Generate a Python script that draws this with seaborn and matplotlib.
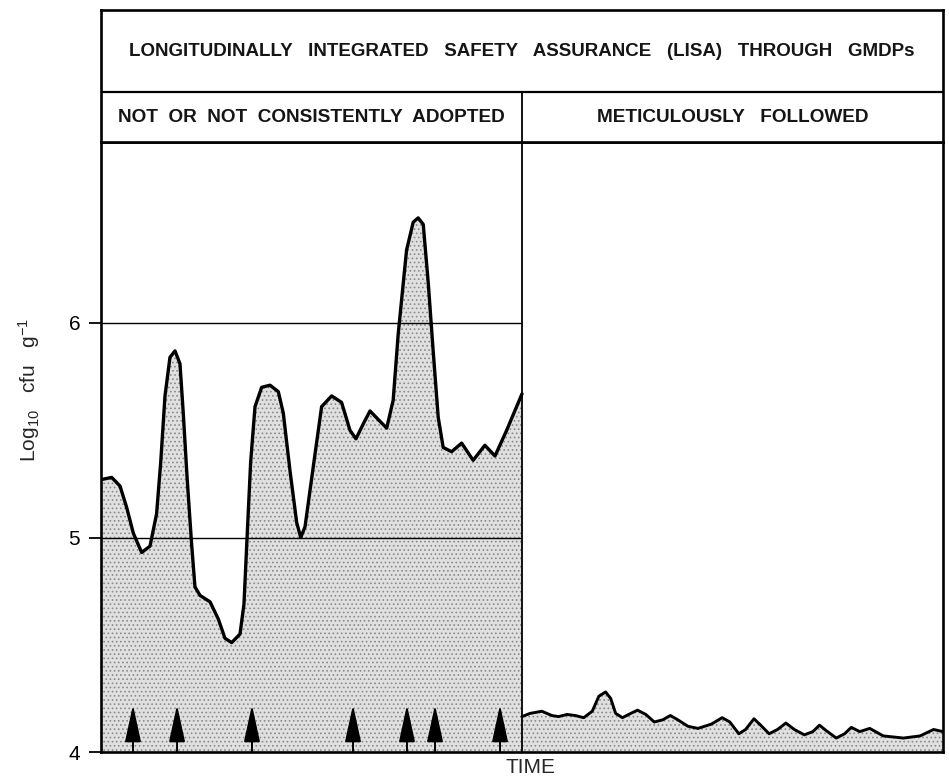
import numpy as np
import pandas as pd
import matplotlib
matplotlib.use("Agg")
import matplotlib.pyplot as plt
import seaborn as sns

# ---------------- data ----------------
left_time = [0.0, 1.27, 2.26, 3.05, 3.84, 4.83, 5.82, 6.60, 7.09, 7.60, 8.19, 8.79, 9.38,
             9.77, 10.24, 10.76, 11.16, 11.76, 12.95, 13.93, 14.73, 15.52, 16.51, 16.98,
             17.30, 17.77, 18.29, 19.08, 20.07, 21.06, 21.65, 22.45, 23.24, 23.72, 24.23,
             25.21, 26.20, 27.39, 28.57, 29.57, 30.28, 31.15, 31.95, 32.93, 33.93, 34.70,
             35.30, 36.29, 37.08, 37.67, 38.27, 38.86, 39.45, 40.05, 40.64, 41.64, 42.83,
             44.20, 45.59, 46.79, 48.18, 50.0]
left_log = [5.27, 5.28, 5.24, 5.14, 5.02, 4.93, 4.96, 5.11, 5.35, 5.66, 5.84, 5.87, 5.81,
            5.58, 5.27, 4.97, 4.77, 4.73, 4.70, 4.62, 4.53, 4.51, 4.55, 4.69,
            4.96, 5.35, 5.61, 5.70, 5.71, 5.68, 5.58, 5.31, 5.07, 5.00, 5.05,
            5.33, 5.61, 5.66, 5.63, 5.50, 5.46, 5.53, 5.59, 5.55, 5.51, 5.64,
            5.95, 6.34, 6.47, 6.49, 6.46, 6.19, 5.87, 5.56, 5.42, 5.40, 5.44,
            5.36, 5.43, 5.38, 5.50, 5.67]

right_time = [50.0, 50.96, 52.36, 53.55, 54.34, 55.35, 56.34, 57.33, 58.34, 59.13, 59.93,
              60.53, 61.12, 61.93, 62.92, 63.72, 64.71, 65.71, 66.71, 67.62, 68.51, 69.70,
              70.90, 72.49, 73.77, 74.68, 75.75, 76.56, 77.55, 78.35, 79.35, 80.35, 81.34,
              82.34, 83.53, 84.54, 85.33, 86.12, 87.32, 88.31, 89.11, 90.11, 91.30, 92.90,
              95.30, 97.28, 98.88, 100.0]
right_log = [4.165, 4.18, 4.19, 4.17, 4.165, 4.175, 4.17, 4.16, 4.19, 4.26, 4.28,
             4.25, 4.18, 4.16, 4.18, 4.195, 4.175, 4.14, 4.15, 4.17, 4.15, 4.12,
             4.11, 4.13, 4.16, 4.14, 4.085, 4.105, 4.155, 4.125, 4.085, 4.105, 4.135,
             4.105, 4.08, 4.095, 4.125, 4.10, 4.065, 4.085, 4.115, 4.095, 4.11, 4.075,
             4.065, 4.075, 4.105, 4.095]

arrow_times = [3.80, 9.03, 17.93, 29.93, 36.34, 39.67, 47.39]
y_ticks = [4, 5, 6]
ref_levels = [5, 6]
title_text = "LONGITUDINALLY   INTEGRATED   SAFETY   ASSURANCE   (LISA)   THROUGH   GMDPs"
left_header = "NOT  OR  NOT  CONSISTENTLY  ADOPTED"
right_header = "METICULOUSLY   FOLLOWED"
x_label = "TIME"
y_label = r"Log$_{10}$   cfu   g$^{-1}$"

# ---------------- style ----------------
sns.set_theme(style="ticks")
plt.rcParams['font.family'] = ['Liberation Sans', 'DejaVu Sans']
plt.rcParams['hatch.color'] = '#8a8a8a'
plt.rcParams['hatch.linewidth'] = 0.7
plt.rcParams['mathtext.fontset'] = 'custom'
plt.rcParams['mathtext.rm'] = 'Liberation Sans'
plt.rcParams['mathtext.it'] = 'Liberation Sans'

W, H = 949, 778
fig = plt.figure(figsize=(W / 100, H / 100), dpi=100)
L, R, B, T_ax, T_top = 101, 943, 752, 142, 10
ax = fig.add_axes([L / W, (H - B) / H, (R - L) / W, (B - T_ax) / H])
hx = fig.add_axes([L / W, (H - T_ax) / H, (R - L) / W, (T_ax - T_top) / H])

df_left = pd.DataFrame({"time": left_time, "log": left_log})
df_right = pd.DataFrame({"time": right_time, "log": right_log})

ymin, ymax = 4.0, 4 + (B - T_ax) / 214.5

# fills
for d in (df_left, df_right):
    ax.fill_between(d["time"], ymin, d["log"], facecolor="#e0e0e0", hatch="....",
                    edgecolor="#8a8a8a", linewidth=0, zorder=1)

# reference levels in left panel
ax.hlines(ref_levels, 0, 50, colors="black", linewidth=1.0, zorder=2)
ax.axvline(50, color="black", linewidth=1.3, zorder=3)

sns.lineplot(data=df_left, x="time", y="log", ax=ax, color="black", linewidth=2.4,
             sort=False, estimator=None, zorder=4, solid_joinstyle="round",
             solid_capstyle="round")
sns.lineplot(data=df_right, x="time", y="log", ax=ax, color="black", linewidth=2.1,
             sort=False, estimator=None, zorder=4, solid_joinstyle="round",
             solid_capstyle="round")

# arrows
for t in arrow_times:
    ax.annotate("", xy=(t, 4.22), xytext=(t, ymin),
                arrowprops=dict(arrowstyle="-|>,head_length=2.3,head_width=0.5",
                                mutation_scale=10, color="black", lw=1.4,
                                shrinkA=0, shrinkB=0),
                zorder=5)

ax.set_xlim(0, 100)
ax.set_ylim(ymin, ymax)
ax.set_xticks([])
ax.set_yticks(y_ticks)
ax.set_yticklabels([str(v) for v in y_ticks], fontsize=15)
ax.tick_params(axis="y", direction="out", length=9, width=1.3, pad=6, colors="black")
ax.set_xlabel(x_label, fontsize=15)
ax.xaxis.set_label_coords((530 - L) / (R - L), -(758 - B) / (B - T_ax))
ax.set_ylabel(y_label, fontsize=15)
ax.yaxis.set_label_coords(-(L - 42) / (R - L), (B - 390) / (B - T_ax))
for s in ax.spines.values():
    s.set_linewidth(1.9)
    s.set_color("black")

# header boxes
hx.set_xlim(0, 100)
hx.set_ylim(0, 1)
hx.set_xticks([])
hx.set_yticks([])
for s in hx.spines.values():
    s.set_linewidth(1.9)
    s.set_color("black")
split = (T_ax - 92) / (T_ax - T_top)
hx.axhline(split, color="black", linewidth=1.6)
hx.vlines(50, 0, split, colors="black", linewidth=1.3)
hx.text(50, (split + 1) / 2, title_text, ha="center", va="center", fontsize=13.5,
        fontweight="bold", color="#151515")
hx.text(25.0, split / 2, left_header, ha="center", va="center", fontsize=13.7,
        fontweight="bold", color="#151515")
hx.text(75, split / 2, right_header, ha="center", va="center", fontsize=13.7,
        fontweight="bold", color="#151515")

fig.savefig("out.png", dpi=100)
